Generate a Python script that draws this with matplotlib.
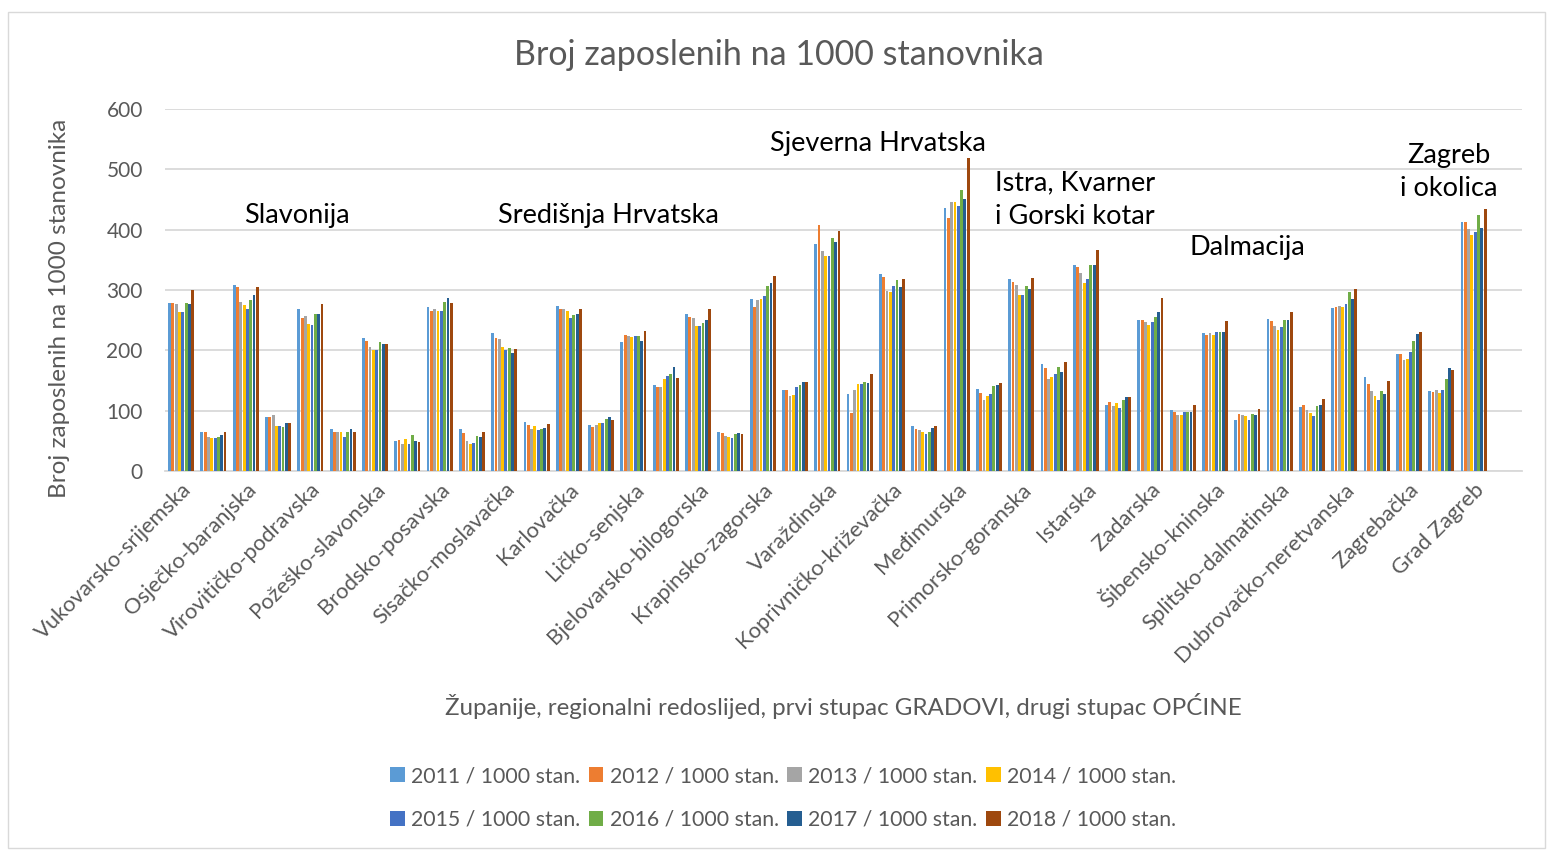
import numpy as np
import matplotlib
matplotlib.use("Agg")
import matplotlib.pyplot as plt
from matplotlib.patches import Rectangle

plt.rcParams['font.family'] = ['Lato', 'DejaVu Sans']

counties = ['Vukovarsko-srijemska', 'Osječko-baranjska', 'Virovitičko-podravska',
            'Požeško-slavonska', 'Brodsko-posavska', 'Sisačko-moslavačka', 'Karlovačka',
            'Ličko-senjska', 'Bjelovarsko-bilogorska', 'Krapinsko-zagorska', 'Varaždinska',
            'Koprivničko-križevačka', 'Međimurska', 'Primorsko-goranska', 'Istarska',
            'Zadarska', 'Šibensko-kninska', 'Splitsko-dalmatinska', 'Dubrovačko-neretvanska',
            'Zagrebačka', 'Grad Zagreb']

series_names = ['2011 / 1000 stan.', '2012 / 1000 stan.', '2013 / 1000 stan.', '2014 / 1000 stan.',
                '2015 / 1000 stan.', '2016 / 1000 stan.', '2017 / 1000 stan.', '2018 / 1000 stan.']

# per county: gradovi, općine (Grad Zagreb only one column)
y2011 = [278, 65, 309, 89, 269, 70, 220, 50, 271, 69, 229, 81, 274, 76, 213, 143, 260, 65, 285, 135,
         377, 127, 326, 74, 436, 136, 318, 178, 341, 110, 251, 101, 229, 85, 252, 106, 270, 156, 194, 133, 413]
y2012 = [278, 64, 305, 90, 253, 65, 215, 52, 265, 63, 221, 77, 269, 73, 225, 140, 255, 63, 271, 135,
         407, 96, 321, 70, 420, 129, 314, 171, 338, 115, 251, 97, 226, 94, 249, 109, 272, 144, 194, 131, 412]
y2013 = [276, 57, 280, 92, 257, 65, 205, 44, 268, 50, 218, 70, 269, 76, 224, 140, 254, 58, 284, 125,
         365, 134, 299, 68, 446, 118, 309, 152, 329, 108, 247, 93, 229, 93, 241, 101, 274, 133, 184, 135, 401]
y2014 = [264, 54, 275, 75, 243, 64, 200, 53, 265, 44, 206, 74, 266, 80, 222, 153, 240, 56, 285, 126,
         357, 144, 296, 65, 446, 125, 291, 155, 312, 113, 242, 92, 226, 91, 233, 96, 271, 124, 185, 129, 391]
y2015 = [264, 54, 269, 75, 242, 57, 200, 45, 266, 46, 200, 68, 253, 79, 224, 157, 240, 55, 290, 139,
         356, 145, 307, 61, 439, 128, 291, 160, 318, 105, 247, 98, 230, 84, 238, 91, 277, 117, 197, 134, 396]
y2016 = [278, 56, 283, 73, 261, 64, 213, 60, 280, 58, 204, 70, 259, 87, 223, 161, 246, 61, 306, 143,
         386, 148, 316, 65, 466, 141, 307, 172, 341, 118, 256, 97, 230, 94, 250, 108, 296, 132, 216, 152, 425]
y2017 = [277, 60, 291, 80, 261, 70, 211, 49, 287, 56, 196, 72, 261, 89, 216, 173, 251, 63, 311, 148,
         380, 146, 305, 71, 451, 143, 302, 164, 342, 123, 264, 98, 230, 93, 250, 109, 285, 128, 227, 171, 403]
y2018 = [300, 65, 305, 79, 276, 65, 210, 48, 279, 65, 202, 78, 269, 84, 232, 154, 268, 61, 323, 148,
         397, 161, 319, 74, 518, 146, 320, 180, 366, 123, 287, 109, 249, 103, 263, 119, 302, 149, 230, 168, 435]

series = [y2011, y2012, y2013, y2014, y2015, y2016, y2017, y2018]
colors = ['#5B9BD5', '#ED7D31', '#A5A5A5', '#FFC000', '#4472C4', '#70AD47', '#255E91', '#9E480E']

regions = ['Slavonija', 'Središnja Hrvatska', 'Sjeverna Hrvatska', 'Istra, Kvarner\ni Gorski kotar',
           'Dalmacija', 'Zagreb\ni okolica']
region_pos = [(297, 216), (608, 216), (878, 143), (1075, 200), (1247, 248), (1449, 172)]

W, H = 1550, 850
fig = plt.figure(figsize=(W / 100, H / 100), dpi=100)
ax = fig.add_axes([165 / W, 1 - 471 / H, (1522 - 165) / W, (471 - 109) / H])

n_cat = 42
x = np.arange(len(y2011))
group_w = 0.82
bw = group_w / len(series)
bars = []
for i, (vals, c, name) in enumerate(zip(series, colors, series_names)):
    b = ax.bar(x - group_w / 2 + bw * (i + 0.5), vals, width=bw * 0.85, color=c, label=name, zorder=3)
    bars.append(b)

ax.set_xlim(-0.5, n_cat - 0.5)
ax.set_ylim(0, 600)
ax.set_yticks(range(0, 601, 100))
ax.yaxis.grid(True, color='#D9D9D9', linewidth=1.3, zorder=0)
ax.set_axisbelow(True)
for s in ['top', 'right', 'left']:
    ax.spines[s].set_visible(False)
ax.spines['bottom'].set_color('#D9D9D9')
ax.spines['bottom'].set_linewidth(1.3)
ax.tick_params(axis='y', length=0, labelsize=15, labelcolor='#595959', pad=16)
ax.tick_params(axis='x', length=0, labelsize=15.8, labelcolor='#595959', pad=6)
ax.set_xticks(np.arange(0, 41, 2))
ax.set_xticklabels(counties, rotation=45, ha='right', rotation_mode='anchor')

ax.set_ylabel('Broj zaposlenih na 1000 stanovnika', fontsize=17.5, color='#595959')
ax.yaxis.set_label_coords(-0.070, 0.45)
fig.text(843 / W, 1 - 706 / H, 'Županije, regionalni redoslijed, prvi stupac GRADOVI, drugi stupac OPĆINE',
         ha='center', va='center', fontsize=17.4, color='#595959')
fig.text(779 / W, 1 - 55 / H, 'Broj zaposlenih na 1000 stanovnika', ha='center', va='center',
         fontsize=24.5, color='#595959')

for txt, (px, py) in zip(regions, region_pos):
    fig.text(px / W, 1 - py / H, txt, ha='center', va='center', fontsize=19.5, color='black',
             linespacing=1.45)

# legend in row order (4 per row)
order = [0, 4, 1, 5, 2, 6, 3, 7]
fig.legend([bars[i] for i in order], [series_names[i] for i in order],
           loc='center', bbox_to_anchor=(783 / W, 1 - 798 / H), ncol=4, frameon=False,
           fontsize=15.3, labelcolor='#595959', handlelength=0.7, handleheight=0.7,
           handletextpad=0.3, columnspacing=0.4, labelspacing=1.1)

fig.patches.append(Rectangle((8 / W, 2 / H), 1537 / W, 836 / H, transform=fig.transFigure,
                             fill=False, edgecolor='#D9D9D9', linewidth=1))

fig.savefig('out.png', dpi=100)
